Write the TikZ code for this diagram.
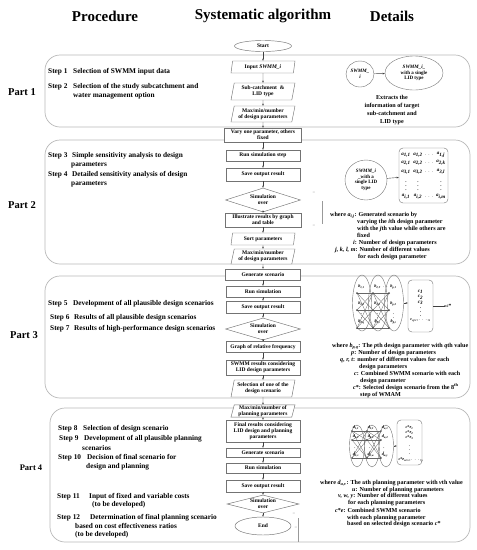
\documentclass[tikz,border=0pt]{standalone}
\usepackage{fontspec}
\setmainfont{Liberation Serif}
\usetikzlibrary{shapes.geometric,arrows.meta}
\newcommand{\vs}[2]{\textit{#1}\textsubscript{\textit{#2}}}
\newcommand{\fflow}{\bfseries\fontsize{5.5}{6}\selectfont}
\newcommand{\fstep}{\bfseries\fontsize{7.3}{8.5}\selectfont}
\newcommand{\fdet}{\bfseries\fontsize{6.1}{7}\selectfont}
\newcommand{\fsm}{\bfseries\fontsize{5}{5.5}\selectfont}
\newcommand{\ftiny}{\bfseries\fontsize{4.2}{4.5}\selectfont}
\begin{document}
\begin{tikzpicture}[x=1pt,y=-1pt,
  partbox/.style={draw=black!28, line width=0.7pt, rounded corners=15pt},
  fl/.style={draw=black!55, fill=white, line width=0.45pt, align=center, font=\fflow, inner sep=0.5pt},
  proc/.style={fl, rectangle, minimum width=74pt},
  para/.style={fl, trapezium, trapezium left angle=75, trapezium right angle=105, trapezium stretches body, minimum width=64pt},
  dec/.style={fl, diamond, aspect=3.2, inner sep=0pt},
  term/.style={fl, ellipse},
  arr/.style={-{Stealth[length=2.2pt,width=1.8pt]}, black!75, line width=0.4pt},
  steptxt/.style={anchor=base west, font=\fstep, inner sep=0pt},
  det/.style={anchor=base west, font=\fdet, inner sep=0pt},
  partlbl/.style={font=\bfseries\fontsize{10.5}{12}\selectfont},
  title/.style={font=\bfseries\fontsize{15}{17}\selectfont},
  circ/.style={draw=black!55, ellipse, align=center, font=\fsm, inner sep=0pt},
  grp/.style={draw=black!55, ellipse, inner sep=0pt},
  rbox/.style={draw=black!55, rounded corners=4pt, inner sep=0pt},
  mtx/.style={font=\fsm, inner sep=0pt},
  lbl/.style={font=\ftiny, inner sep=0pt},
  net/.style={black!60, line width=0.3pt}
]
\useasboundingbox (0,0) rectangle (477,550);

% titles
\node[title] (t1) at (105,16) {Procedure};
\node[title] (t2) at (263,16) {Systematic algorithm};
\node[title] (t3) at (392,16) {Details};

% part boxes
\draw[partbox] (45,55) rectangle (470,127);
\draw[partbox] (45,140) rectangle (470,264);
\draw[partbox] (45,276) rectangle (470,398);
\draw[partbox] (50,408) rectangle (470,542);

\node[partlbl] (pl1) at (22,92) {Part 1};
\node[partlbl] (pl2) at (22,205) {Part 2};
\node[partlbl] (pl3) at (24,335) {Part 3};
\node[font=\bfseries\fontsize{8.5}{10}\selectfont] (pl4) at (31,468) {Part 4};

% steps
\node[steptxt] at (48,73.5) {Step 1};
\node[steptxt] at (73,73.5) {Selection of SWMM input data};
\node[steptxt] at (48,88.5) {Step 2};
\node[steptxt] at (73,88.5) {Selection of the study subcatchment and};
\node[steptxt] at (73,97.5) {water management option};

\node[steptxt] at (48,157.5) {Step 3};
\node[steptxt] at (72,157.5) {Simple sensitivity analysis to design};
\node[steptxt] at (71,166.5) {parameters};
\node[steptxt] at (48,176.5) {Step 4};
\node[steptxt] at (72,176.5) {Detailed sensitivity analysis of design};
\node[steptxt] at (71,185.5) {parameters};

\node[steptxt] at (48,305.5) {Step 5};
\node[steptxt] at (73,305.5) {Development of all plausible design scenarios};
\node[steptxt] at (50,319.5) {Step 6};
\node[steptxt] at (74,319.5) {Results of all plausible design scenarios};
\node[steptxt] at (50,330.5) {Step 7};
\node[steptxt] at (74,330.5) {Results of high-performance design scenarios};

\node[steptxt] at (58,430.5) {Step 8};
\node[steptxt] at (83,430.5) {Selection of design scenario};
\node[steptxt] at (59,440.5) {Step 9};
\node[steptxt] at (84,440.5) {Development of all plausible planning};
\node[steptxt] at (82,450.5) {scenarios};
\node[steptxt] at (58,459.5) {Step 10};
\node[steptxt] at (87,459.5) {Decision of final scenario for};
\node[steptxt] at (86,468.5) {design and planning};
\node[steptxt] at (57,498.5) {Step 11};
\node[steptxt] at (89,498.5) {Input of fixed and variable costs};
\node[steptxt] at (92,506.5) {(to be developed)};
\node[steptxt] at (57,519.5) {Step 12};
\node[steptxt] at (90,519.5) {Determination of final planning scenario};
\node[steptxt] at (75,528.5) {based on cost effectiveness ratios};
\node[steptxt] at (75,536.5) {(to be developed)};

% flowchart
\node[term, minimum width=57pt, minimum height=11pt] (s) at (263,46) {Start};
\node[para, minimum height=12pt] (p1) at (263,67) {Input \textit{SWMM\_i}};
\node[para, minimum height=17pt] (p2) at (263,91.5) {Sub-catchment \ \&\\LID type};
\node[para, minimum height=16pt] (p3) at (263,114) {Max/min/number\\of design parameters};
\node[proc, minimum width=77pt, minimum height=14pt] (r1) at (263,135) {Vary one parameter, others\\fixed};
\node[proc, minimum height=11pt] (r2) at (263,155.5) {Run simulation step};
\node[proc, minimum height=13pt] (r3) at (263,174.5) {Save output result};
\node[dec, minimum width=75pt, minimum height=24pt] (d1) at (263,200) {Simulation\\over};
\node[proc, minimum width=76pt, minimum height=14pt] (r4) at (263,220) {Illustrate results by graph\\and table};
\node[para, minimum height=12pt] (p4) at (263,239) {Sort parameters};
\node[para, minimum height=15pt] (p5) at (263,256.5) {Max/min/number\\of design parameters};
\node[proc, minimum width=75pt, minimum height=11pt] (r5) at (263,274.5) {Generate scenario};
\node[proc, minimum height=11pt] (r6) at (263,291.5) {Run simulation};
\node[proc, minimum height=12pt] (r7) at (263,307) {Save output result};
\node[dec, minimum width=75pt, minimum height=22pt] (d2) at (263,329) {Simulation\\over};
\node[proc, minimum height=11pt] (r8) at (263,347) {Graph of relative frequency};
\node[proc, minimum height=15pt] (r9) at (263,367.5) {SWMM results considering\\LID design parameters};
\node[para, minimum height=17pt] (p6) at (263,388.5) {Selection of one of the\\design scenario};
\node[para, minimum height=12pt] (p7) at (263,411) {Max/min/number of\\planning parameters};
\node[proc, minimum height=22pt] (r10) at (263,431) {Final results considering\\LID design and planning\\parameters};
\node[proc, minimum height=9pt] (r11) at (263,452.5) {Generate scenario};
\node[proc, minimum height=10pt] (r12) at (263,468) {Run simulation};
\node[proc, minimum height=12pt] (r13) at (263,486) {Save output result};
\node[dec, minimum width=72pt, minimum height=18pt] (d3) at (263,504) {Simulation\\over};
\node[term, minimum width=56pt, minimum height=18pt] (e) at (263,526) {End};

\foreach \a/\b in {s/p1,p1/p2,p2/p3,p3/r1,r1/r2,r2/r3,r3/d1,d1/r4,r4/p4,p4/p5,p5/r5,r5/r6,r6/r7,r7/d2,d2/r8,r8/r9,r9/p6,p6/p7,p7/r10,r10/r11,r11/r12,r12/r13,r13/d3,d3/e}
  \draw[arr] (\a) -- (\b);

% loop marks
\draw[black!40, line width=0.5pt] (322,201) -- (322,224);
\node[lbl, black!60] at (314,193) {--};
\node[lbl, black!60] at (314,226) {--};
\draw[black!40, line width=0.5pt] (298,518) -- (298,542);
\node[lbl, black!60] at (294,514) {--};
\node[lbl, black!60] at (296,528) {--};

% ---------- details part 1
\node[circ, minimum width=28pt, minimum height=26pt] (e1) at (360,74) {\textit{SWMM\_}\\\textit{i}};
\node[circ, minimum width=58pt, minimum height=34pt] (e2) at (414,73) {\textit{SWMM\_i\_}\\with a single\\LID type};
\draw[arr] (e1) -- (e2);
\node[align=center, font=\bfseries\fontsize{6.1}{7.8}\selectfont] (ex) at (392,110) {Extracts the\\information of target\\sub-catchment and\\LID type};

% ---------- details part 2
\node[circ, minimum width=42pt, minimum height=40pt] (c2) at (366,180) {\textit{SWMM\_i}\\\_with a\\single LID\\type};
\node[rbox, minimum width=49pt, minimum height=55pt] (mb) at (423.5,175.5) {};
\draw[arr] (c2) -- (mb);
\foreach \r/\y/\n in {1/155/j,2/163/k,3/172/l,i/197/m}{
  \node[mtx] at (406,\y) {\vs{a}{\r,1}};
  \node[mtx] at (418,\y) {\vs{a}{\r,2}};
  \node[mtx] at (429,\y) {$\cdots$};
  \node[mtx] at (441,\y) {\vs{a}{\r,\n}};
}
\node[mtx] at (406,183) {$\vdots$};
\node[mtx] at (418,183) {$\vdots$};
\node[mtx] at (441,183) {$\vdots$};

\node[det] at (330,216) {where \vs{a}{i,j}: Generated scenario by};
\node[det] at (357,223) {varying the \textit{i}th design parameter};
\node[det] at (357,230) {with the \textit{j}th value while others are};
\node[det] at (357,237) {fixed};
\node[det] at (353,244) {\textit{i}: Number of design parameters};
\node[det] at (335,251) {\textit{j, k, l, m}: Number of different values};
\node[det] at (358,258) {for each design parameter};

% ---------- details part 3
\foreach \i/\x in {1/362,2/378,3/394}
  \node[grp, minimum width=19pt, minimum height=56pt] (g\i) at (\x,303) {};
\foreach \c/\x in {1/357,2/373,3/389}
  \foreach \r/\y in {1/293,2/310,3/328}
    \coordinate (b\c\r) at (\x,\y);
\foreach \r in {1,2,3}
  \foreach \s in {1,2,3}{
    \draw[net] (b1\r) -- (b2\s);
    \draw[net] (b2\r) -- (b3\s);
  }
\foreach \c in {1,2,3}
  \foreach \r in {1,2,3}
    \fill[black!70] (b\c\r) circle (1pt);
\foreach \c/\cl/\last in {1/1/q,2/2/r,3/p/t}{
  \node[lbl] at ([shift={(4.5,-6)}]b\c1) {\vs{b}{\cl,1}};
  \node[lbl] at ([shift={(4.5,-6)}]b\c2) {\vs{b}{\cl,2}};
  \node[lbl] at ([shift={(4.5,-6)}]b\c3) {\vs{b}{\cl,\last}};
  \node[lbl] at ([shift={(4.5,-13)}]b\c3) {$\vdots$};
}
\node[lbl] at (383.6,287) {$\cdots$};
\node[rbox, minimum width=25pt, minimum height=52pt] (bx3) at (420.5,306) {};
\draw[arr] (g3.east) -- (g3.east -| bx3.west);
\node[mtx] at (420.5,292) {\vs{c}{1}};
\node[mtx] at (420.5,297.5) {\vs{c}{2}};
\node[mtx] at (420.5,303) {\vs{c}{3}};
\node[mtx] at (420.5,309) {$\vdots$};
\node[lbl] at (420.5,320) {\vs{c}{q×r×$\cdots$×t}};
\node[mtx] (cs) at (449,306) {\textit{c}*};
\draw[arr] (bx3) -- (cs);

\node[det] at (332,347) {where \vs{b}{p,q}: The \textit{p}th design parameter with \textit{q}th value};
\node[det] at (351,354) {\textit{p}: Number of design parameters};
\node[det] at (340,361) {\textit{q, r, t}: number of different values for each};
\node[det] at (359,368) {design parameters};
\node[det] at (354,375) {\textit{c}: Combined SWMM scenario with each};
\node[det] at (360,382) {design parameter};
\node[det] at (353,389) {\textit{c}*: Selected design scenario from the 8\textsuperscript{th}};
\node[det] at (360,396) {step of WMAM};

% ---------- details part 4
\foreach \i/\x in {1/357,2/372,3/386}
  \node[grp, minimum width=15pt, minimum height=42pt] (h\i) at (\x,446) {};
\foreach \c/\x in {1/352,2/367,3/381}
  \foreach \r/\y in {1/431,2/440,3/458}
    \coordinate (d\c\r) at (\x,\y);
\foreach \r in {1,2,3}
  \foreach \s in {1,2,3}{
    \draw[net] (d1\r) -- (d2\s);
    \draw[net] (d2\r) -- (d3\s);
  }
\foreach \c in {1,2,3}
  \foreach \r in {1,2,3}
    \fill[black!70] (d\c\r) circle (0.8pt);
\foreach \c/\cl/\last in {1/1/v,2/2/w,3/u/y}{
  \node[lbl] at ([shift={(4,-3)}]d\c1) {\vs{d}{\cl,1}};
  \node[lbl] at ([shift={(4,-3)}]d\c2) {\vs{d}{\cl,2}};
  \node[lbl] at ([shift={(4,-3)}]d\c3) {\vs{d}{\cl,\last}};
  \node[lbl] at ([shift={(3,-9)}]d\c3) {$\vdots$};
}
\node[rbox, minimum width=25pt, minimum height=45pt] (bx4) at (409.5,442.5) {};
\draw[arr] (h3.east) -- (h3.east -| bx4.west);
\node[lbl] at (409.5,428) {\textit{c}*\vs{e}{1}};
\node[lbl] at (409.5,433) {\textit{c}*\vs{e}{2}};
\node[lbl] at (409.5,438) {\textit{c}*\vs{e}{3}};
\node[lbl] at (409.5,447) {$\vdots$};
\node[lbl] at (411,460) {\textit{c}*\vs{e}{u×v×$\cdots$×y}};

\node[det] at (320,484) {where \vs{d}{u,v}: The \textit{u}th planning parameter with \textit{v}th value};
\node[det] at (352,491) {\textit{u}: Number of planning parameters};
\node[det] at (338,497.5) {\textit{v, w, y}: Number of different values};
\node[det] at (348,504) {for each planning parameters};
\node[det] at (335,512) {\textit{c}*\textit{e}: Combined SWMM scenario};
\node[det] at (347,519) {with each planning parameter};
\node[det] at (347,525.5) {based on selected design scenario \textit{c}*};
\end{tikzpicture}
\end{document}
